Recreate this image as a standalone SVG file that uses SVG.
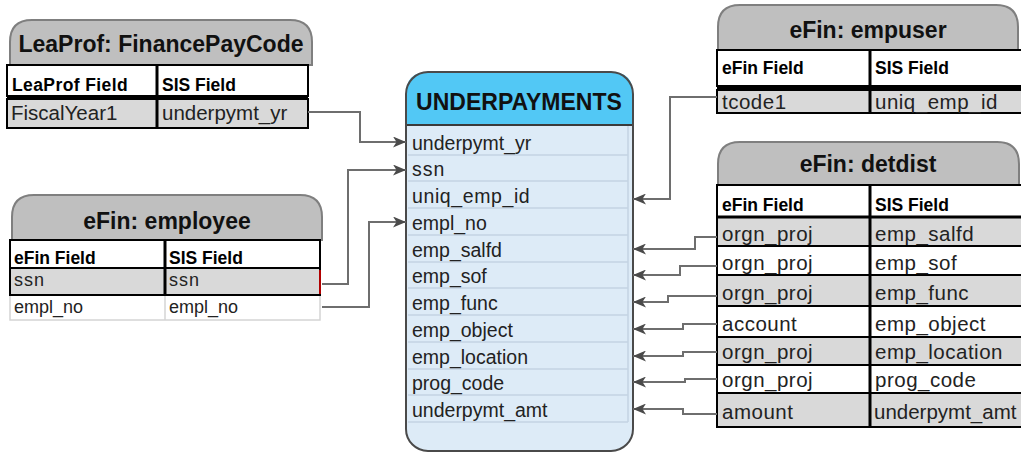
<svg xmlns="http://www.w3.org/2000/svg" width="1021" height="452" viewBox="0 0 1021 452">
<style>
.title{fill:#BFBFBF;stroke:#7F7F7F;stroke-width:2}
.w{fill:#FFFFFF;stroke:#000;stroke-width:2}
.g{fill:#D9D9D9;stroke:#000;stroke-width:2}
.lw{fill:#FFFFFF;stroke:#D4D4D4;stroke-width:1.5}
.col{stroke:#000;stroke-width:3}
.thick{stroke:#000;stroke-width:4}
.tt{font-family:"Liberation Sans",Arial,sans-serif;font-weight:bold;font-size:23px;fill:#111;text-anchor:middle}
.fh{font-family:"Liberation Sans",Arial,sans-serif;font-weight:bold;font-size:17.5px;fill:#000}
.fd{font-family:"Liberation Sans",Arial,sans-serif;font-size:20.5px;fill:#222}
.fr{font-family:"Liberation Sans",Arial,sans-serif;font-size:20.5px;fill:#222;letter-spacing:0.5px}
.fe{font-family:"Liberation Sans",Arial,sans-serif;font-size:18px;fill:#222}
.fu{font-family:"Liberation Sans",Arial,sans-serif;font-size:19.5px;fill:#222}
.sep{stroke:#C3D3E3;stroke-width:1.5}
.conn path{fill:none;stroke:#6E6E6E;stroke-width:2;marker-end:url(#arr)}
</style>
<defs>
<marker id="arr" markerUnits="userSpaceOnUse" markerWidth="13" markerHeight="11" refX="13" refY="5.5" orient="auto">
<path d="M0,0 L13,5.5 L0,11 L3.5,5.5 Z" fill="#4A4A4A"/>
</marker>
</defs>

<g id="leaprof">
<path class="title" d="M10,65 L10,42 Q10,20 32,20 L290,20 Q312,20 312,42 L312,65 Z"/>
<text class="tt" x="161" y="52">LeaProf: FinancePayCode</text>
<rect class="w" x="7" y="65" width="301" height="31"/>
<line class="thick" x1="7" y1="97" x2="308" y2="97"/>
<rect class="g" x="7" y="99" width="301" height="29"/>
<line class="col" x1="157" y1="65" x2="157" y2="128"/>
<text class="fh" x="12" y="91" letter-spacing="0.4">LeaProf Field</text>
<text class="fh" x="162" y="91">SIS Field</text>
<text class="fd" x="11" y="120">FiscalYear1</text>
<text class="fd" x="162" y="120">underpymt_yr</text>
</g>

<g id="employee">
<path class="title" d="M12,240 L12,217 Q12,195 34,195 L300,195 Q322,195 322,217 L322,240 Z"/>
<text class="tt" x="167" y="229">eFin: employee</text>
<rect class="lw" x="10" y="295" width="310" height="25"/>
<line x1="165" y1="295" x2="165" y2="320" stroke="#D4D4D4" stroke-width="1.5"/>
<rect class="w" x="10" y="240" width="310" height="28"/>
<rect class="g" x="10" y="268" width="310" height="27" stroke-width="2.5"/>
<line class="col" x1="165" y1="240" x2="165" y2="295"/>
<line x1="320" y1="270" x2="320" y2="294" stroke="#B00000" stroke-width="2"/>
<text class="fh" x="14" y="264">eFin Field</text>
<text class="fh" x="169" y="264">SIS Field</text>
<text class="fe" x="14" y="286" letter-spacing="1">ssn</text>
<text class="fe" x="169" y="286" letter-spacing="1">ssn</text>
<text class="fe" x="14" y="313">empl_no</text>
<text class="fe" x="169" y="313">empl_no</text>
</g>

<g id="underpayments">
<rect x="406" y="72" width="227" height="379" rx="22" ry="22" fill="#DDEBF7"/>
<path d="M406,125 L406,94 Q406,72 428,72 L611,72 Q633,72 633,94 L633,125 Z" fill="#52C8F5"/>
<line x1="406" y1="125" x2="633" y2="125" stroke="#3A3A3A" stroke-width="2"/>
<g class="sep">
<line x1="408" y1="155" x2="628" y2="155"/>
<line x1="408" y1="181" x2="628" y2="181"/>
<line x1="408" y1="208" x2="628" y2="208"/>
<line x1="408" y1="235" x2="628" y2="235"/>
<line x1="408" y1="262" x2="628" y2="262"/>
<line x1="408" y1="288" x2="628" y2="288"/>
<line x1="408" y1="315" x2="628" y2="315"/>
<line x1="408" y1="342" x2="628" y2="342"/>
<line x1="408" y1="369" x2="628" y2="369"/>
<line x1="408" y1="395" x2="628" y2="395"/>
<line x1="408" y1="422" x2="628" y2="422"/>
<line x1="628" y1="126" x2="628" y2="422"/>
</g>
<rect x="406" y="72" width="227" height="379" rx="22" ry="22" fill="none" stroke="#4A4A4A" stroke-width="2"/>
<text class="tt" x="519" y="110" font-size="22">UNDERPAYMENTS</text>
<text class="fu" x="412" y="150">underpymt_yr</text>
<text class="fu" x="412" y="176" letter-spacing="1">ssn</text>
<text class="fu" x="412" y="203" letter-spacing="0.6">uniq_emp_id</text>
<text class="fu" x="412" y="230">empl_no</text>
<text class="fu" x="412" y="257">emp_salfd</text>
<text class="fu" x="412" y="283">emp_sof</text>
<text class="fu" x="412" y="310">emp_func</text>
<text class="fu" x="412" y="337">emp_object</text>
<text class="fu" x="412" y="364">emp_location</text>
<text class="fu" x="412" y="390">prog_code</text>
<text class="fu" x="412" y="417">underpymt_amt</text>
</g>

<g id="empuser">
<path class="title" d="M718,50 L718,27 Q718,5 740,5 L996,5 Q1018,5 1018,27 L1018,50 Z"/>
<text class="tt" x="868" y="38">eFin: empuser</text>
<rect class="w" x="717" y="50" width="320" height="36"/>
<line class="thick" x1="717" y1="88" x2="1030" y2="88"/>
<rect class="g" x="717" y="90" width="320" height="23"/>
<line class="col" x1="870" y1="50" x2="870" y2="113"/>
<text class="fh" x="722" y="74">eFin Field</text>
<text class="fh" x="875" y="74">SIS Field</text>
<text class="fr" x="722" y="109">tcode1</text>
<text class="fr" x="875" y="109">uniq_emp_id</text>
</g>

<g id="detdist">
<path class="title" d="M718,185 L718,164 Q718,142 740,142 L997,142 Q1019,142 1019,164 L1019,185 Z"/>
<text class="tt" x="868" y="172">eFin: detdist</text>
<rect class="w" x="717" y="185" width="320" height="32"/>
<rect class="g" x="717" y="217" width="320" height="29"/>
<rect class="w" x="717" y="246" width="320" height="29"/>
<rect class="g" x="717" y="275" width="320" height="31"/>
<rect class="w" x="717" y="306" width="320" height="31"/>
<rect class="g" x="717" y="337" width="320" height="28"/>
<rect class="w" x="717" y="365" width="320" height="28"/>
<rect class="g" x="717" y="393" width="320" height="34"/>
<line class="col" x1="870" y1="185" x2="870" y2="427"/>
<line x1="717" y1="217" x2="1030" y2="217" stroke="#000" stroke-width="3"/>
<text class="fh" x="722" y="211">eFin Field</text>
<text class="fh" x="875" y="211">SIS Field</text>
<text class="fr" x="722" y="241">orgn_proj</text>
<text class="fr" x="875" y="241">emp_salfd</text>
<text class="fr" x="722" y="270">orgn_proj</text>
<text class="fr" x="875" y="270">emp_sof</text>
<text class="fr" x="722" y="300">orgn_proj</text>
<text class="fr" x="875" y="300">emp_func</text>
<text class="fr" x="722" y="331">account</text>
<text class="fr" x="875" y="331">emp_object</text>
<text class="fr" x="722" y="359">orgn_proj</text>
<text class="fr" x="875" y="359">emp_location</text>
<text class="fr" x="722" y="387">orgn_proj</text>
<text class="fr" x="875" y="387">prog_code</text>
<text class="fr" x="722" y="419">amount</text>
<text class="fd" x="874" y="419" font-size="20">underpymt_amt</text>
</g>

<g id="connectors" class="conn">
<path d="M308,112 H360 V142 H406"/>
<path d="M322,284 H348 V170 H406"/>
<path d="M322,307 H369 V222 H406"/>
<path d="M717,97 H670 V199 H633"/>
<path d="M717,237 H695 V249 H633"/>
<path d="M717,266 H680 V275 H633"/>
<path d="M717,296 H668 V302 H633"/>
<path d="M717,324 H683 V329 H633"/>
<path d="M717,352 H683 V356 H633"/>
<path d="M717,379 H685 V382 H633"/>
<path d="M717,414 H683 V409 H633"/>
</g>
</svg>
